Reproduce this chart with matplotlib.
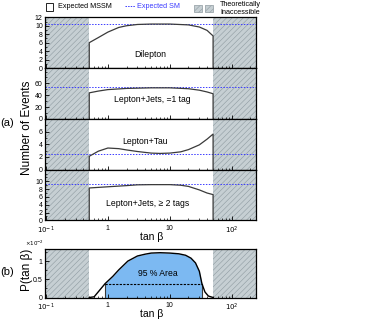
import matplotlib

matplotlib.use("Agg")
import matplotlib.pyplot as plt  # noqa: E402
from matplotlib.patches import Rectangle  # noqa: E402
from matplotlib.lines import Line2D  # noqa: E402
import numpy as np  # noqa: E402

plt.rcParams["font.family"] = ["Liberation Sans", "DejaVu Sans"]
plt.rcParams["hatch.linewidth"] = 0.4

# tan(beta) range that is theoretically accessible
TANB_LO = 0.5
TANB_HI = 50.0
XLIM = (0.096, 245)

# Expected MSSM curves per channel
dil_x = [0.5, 0.7, 1, 1.5, 2, 3, 5, 10, 20, 30, 40, 45, 50]
dil_y = [6.0, 7.2, 8.5, 9.6, 10.0, 10.3, 10.4, 10.4, 10.2, 9.7, 8.9, 8.2, 7.6]
lj1_x = [0.5, 0.7, 1, 2, 5, 10, 20, 30, 40, 50]
lj1_y = [44, 47, 49.5, 51.5, 52.5, 52.5, 51, 48.5, 45.5, 42.5]
ltau_x = [0.5, 0.7, 1, 1.5, 2, 3, 5, 7, 10, 15, 20, 30, 40, 50]
ltau_y = [2.1, 2.9, 3.4, 3.3, 3.1, 2.85, 2.6, 2.55, 2.6, 2.8, 3.15, 3.9, 4.8, 5.6]
lj2_x = [0.5, 1, 2, 3, 5, 10, 15, 20, 30, 40, 50]
lj2_y = [8.3, 8.6, 8.9, 9.1, 9.15, 9.15, 9.0, 8.7, 7.8, 7.0, 6.6]

# Expected SM levels
sm_levels = [10.5, 53.5, 2.4, 9.2]

channels = ["Dilepton", "Lepton+Jets, =1 tag", "Lepton+Tau", "Lepton+Jets, \u2265 2 tags"]
ylims = [(0, 12), (0, 86), (0, 8), (0, 13)]
yticks = [[0, 2, 4, 6, 8, 10, 12], [0, 20, 40, 60], [0, 2, 4, 6], [0, 2, 4, 6, 8, 10]]
label_pos = [(0.50, 0.275), (0.51, 0.38), (0.477, 0.545), (0.485, 0.34)]

# Probability density P(tan beta), in units of 1e-2
p_x = [0.5, 0.6, 0.9, 1.2, 1.5, 2.1, 3.0, 4, 5, 7, 10, 14, 18, 22, 26, 30, 33, 37, 42, 50]
p_y = [0.0, 0.02, 0.38, 0.58, 0.76, 1.0, 1.14, 1.19, 1.22, 1.23, 1.22, 1.2, 1.16, 1.08,
       0.95, 0.72, 0.38, 0.15, 0.04, 0.0]
area_lo, area_hi = 0.9, 33
area_level = 0.38

xticks = [0.1, 1, 10, 100]
xticklabels = ["$10^{-1}$", "1", "10", "$10^{2}$"]

HATCH_FC = "#c6cfd3"
HATCH_EC = "#8f9ba1"
CURVE = "#3a3a3a"
SM_BLUE = "#3b3bff"


def shade(ax):
    for lo, hi in [(XLIM[0], TANB_LO), (TANB_HI, XLIM[1])]:
        ax.axvspan(lo, hi, facecolor=HATCH_FC, edgecolor=HATCH_EC,
                   hatch="//////", linewidth=0, zorder=0)


def style(ax):
    ax.set_xscale("log")
    ax.set_xlim(*XLIM)
    ax.tick_params(which="both", direction="in", labelsize=5, pad=1.5)
    ax.tick_params(axis="x", pad=3)
    ax.tick_params(which="major", length=3, width=0.6)
    ax.tick_params(which="minor", length=1.5, width=0.5)
    for s in ax.spines.values():
        s.set_linewidth(0.9)


fig = plt.figure(figsize=(3.74, 3.26), dpi=100)
gs = fig.add_gridspec(4, 1, left=0.120, right=0.684, top=0.947, bottom=0.324, hspace=0)
axes = [fig.add_subplot(gs[i]) for i in range(4)]
curves = [(dil_x, dil_y), (lj1_x, lj1_y), (ltau_x, ltau_y), (lj2_x, lj2_y)]

for i, ax in enumerate(axes):
    style(ax)
    shade(ax)
    cx, cy = curves[i]
    ax.plot([cx[0]] + cx + [cx[-1]], [0] + cy + [0], color=CURVE, lw=0.9, zorder=3)
    ax.axhline(sm_levels[i], color=SM_BLUE, lw=0.7, ls=(0, (1.5, 1.5)), zorder=2)
    ax.set_ylim(*ylims[i])
    ax.set_yticks(yticks[i])
    ax.yaxis.set_minor_locator(matplotlib.ticker.AutoMinorLocator(2))
    ax.set_xticks(xticks)
    if i < 3:
        ax.set_xticklabels([])
    else:
        ax.set_xticklabels(xticklabels)
    ax.text(label_pos[i][0], label_pos[i][1], channels[i], transform=ax.transAxes,
            ha="center", va="center", fontsize=6.2)

# panel (b)
axb = fig.add_axes([0.120, 0.0874, 0.564, 0.1486])
style(axb)
shade(axb)
px = np.array(p_x)
py = np.array(p_y)
inside = (px >= area_lo) & (px <= area_hi)
axb.fill_between(px, 0, py, where=inside, color="#7cb9f2", lw=0, zorder=1)
axb.plot([area_lo, area_lo], [0, py[px == area_lo][0]], color=CURVE, lw=0.8, zorder=3)
axb.plot([area_hi, area_hi], [0, py[px == area_hi][0]], color=CURVE, lw=0.8, zorder=3)
axb.plot([area_lo, area_hi], [area_level, area_level], color="black", lw=0.8,
         ls=(0, (2, 1.2)), zorder=3)
axb.plot(px, py, color="black", lw=1.0, zorder=4)
axb.set_ylim(0, 1.33)
axb.set_yticks([0, 0.5, 1])
axb.set_yticklabels(["0", "0.5", "1"])
axb.yaxis.set_minor_locator(matplotlib.ticker.AutoMinorLocator(2))
axb.set_xticks(xticks)
axb.set_xticklabels(xticklabels)
axb.text(0.537, 0.50, "95 % Area", transform=axb.transAxes, ha="center",
         va="center", fontsize=6.2)
axb.text(-0.005, 1.02, "$\\times10^{-2}$", transform=axb.transAxes, ha="right",
         va="bottom", fontsize=4)

# axis titles and panel tags
fig.text(0.072, 0.607, "Number of Events", rotation=90, ha="center", va="center", fontsize=8.5)
fig.text(0.072, 0.172, "P(tan \u03b2)", rotation=90, ha="center", va="center", fontsize=8.5)
fig.text(0.019, 0.622, "(a)", ha="center", va="center", fontsize=8)
fig.text(0.019, 0.167, "(b)", ha="center", va="center", fontsize=8)
fig.text(0.405, 0.274, "tan \u03b2", ha="center", va="center", fontsize=7.5)
fig.text(0.405, 0.037, "tan \u03b2", ha="center", va="center", fontsize=7.5)

# legend row
W, H = 374.0, 326.0
fig.patches.append(Rectangle((46 / W, 1 - 10.7 / H), 7.3 / W, 8 / H, transform=fig.transFigure,
                             facecolor="white", edgecolor="black", lw=0.6))
fig.text(57.7 / W, 1 - 6.7 / H, "Expected MSSM", ha="left", va="center", fontsize=5.2)
fig.lines.append(Line2D([125 / W, 135 / W], [1 - 6.3 / H] * 2, transform=fig.transFigure,
                        color=SM_BLUE, lw=0.7, ls=(0, (1.5, 1.2))))
fig.text(137.3 / W, 1 - 6.5 / H, "Expected SM", ha="left", va="center", fontsize=5.2,
         color=SM_BLUE)
for x0 in (194.3, 205.0):
    fig.patches.append(Rectangle((x0 / W, 1 - 12 / H), 7.6 / W, 7.5 / H, transform=fig.transFigure,
                                 facecolor=HATCH_FC, edgecolor=HATCH_EC, hatch="//////", lw=0.5))
fig.text(220 / W, 1 - 4 / H, "Theoretically", ha="left", va="center", fontsize=5.2)
fig.text(220 / W, 1 - 12 / H, "Inaccessible", ha="left", va="center", fontsize=5.2)

fig.savefig("out.png", dpi=100)
